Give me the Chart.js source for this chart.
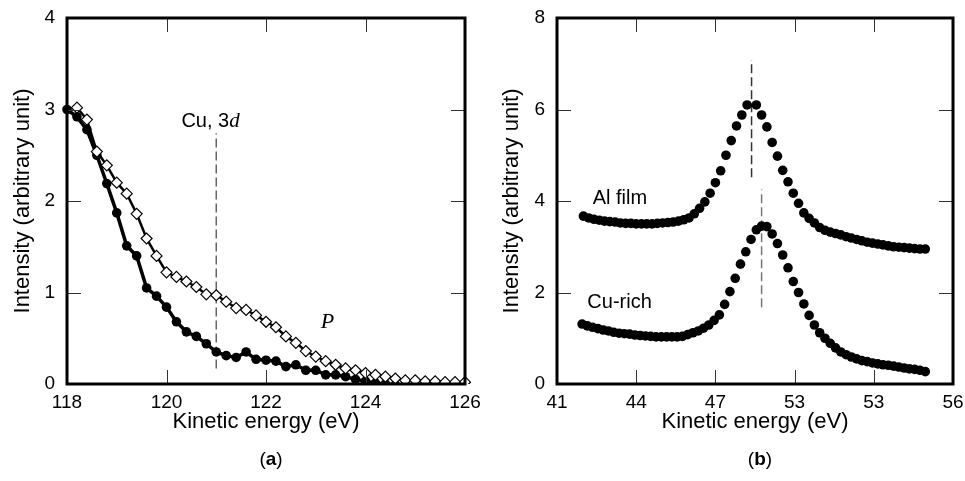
<!DOCTYPE html>
<html lang="en">
<head>
<meta charset="UTF-8">
<title>Kinetic energy spectra</title>
<script src="https://cdn.jsdelivr.net/npm/chart.js"></script>
<style>
    body {
        margin: 0;
        background: #fff;
    }

    .wrap {
        position: relative;
        width: 965px;
        height: 481px;
    }

    #chartA {
        position: absolute;
        left: 0;
        top: 0;
    }

    #chartB {
        position: absolute;
        left: 480px;
        top: 0;
    }
</style>
</head>
<body>
<div class="wrap">
    <canvas id="chartA" width="480" height="481"></canvas>
    <canvas id="chartB" width="485" height="481"></canvas>
</div>

<script>
    // ---- panel (a) ----
    const energyA = [118.0, 118.2, 118.4, 118.6, 118.8, 119.0, 119.2, 119.4, 119.6, 119.8,
        120.0, 120.2, 120.4, 120.6, 120.8, 121.0, 121.2, 121.4, 121.6, 121.8,
        122.0, 122.2, 122.4, 122.6, 122.8, 123.0, 123.2, 123.4, 123.6, 123.8,
        124.0, 124.2, 124.4, 124.6, 124.8, 125.0, 125.2, 125.4, 125.6, 125.8, 126.0];
    const filledA = [3.00, 2.92, 2.78, 2.50, 2.19, 1.87, 1.51, 1.40, 1.05, 0.96,
        0.84, 0.68, 0.57, 0.52, 0.44, 0.35, 0.31, 0.29, 0.35, 0.27,
        0.26, 0.25, 0.19, 0.21, 0.15, 0.15, 0.10, 0.10, 0.08, 0.05,
        0.03, 0.01, 0.00, -0.01, -0.01, -0.01, -0.01, -0.01, -0.01, -0.01, -0.01];
    const openA = [null, 3.02, 2.89, 2.54, 2.39, 2.20, 2.08, 1.86, 1.59, 1.40,
        1.22, 1.17, 1.12, 1.06, 0.98, 0.97, 0.90, 0.83, 0.81, 0.75,
        0.68, 0.62, 0.52, 0.45, 0.36, 0.30, 0.25, 0.21, 0.17, 0.15,
        0.12, 0.10, 0.08, 0.06, 0.04, 0.04, 0.03, 0.03, 0.02, 0.02, 0.02];
    const ticksXA = ['118', '120', '122', '124', '126'];
    const ticksYA = ['0', '1', '2', '3', '4'];
    // dashed marker: [x, yFrom, yTo]
    const markersA = [[121.0, 0.17, 2.74]];

    // ---- panel (b) ----
    const energyAl = [42.0, 42.2, 42.4, 42.6, 42.8, 43.0, 43.2, 43.4, 43.6, 43.8,
        44.0, 44.2, 44.4, 44.6, 44.8, 45.0, 45.2, 45.4, 45.6, 45.8,
        46.0, 46.2, 46.4, 46.6, 46.8, 47.0, 47.2, 47.4, 47.6, 47.8, 48.0, 48.2,
        48.55, 48.75, 48.95, 49.15, 49.35, 49.55, 49.75, 49.95, 50.15, 50.35,
        50.55, 50.75, 50.95, 51.15, 51.35, 51.55, 51.75, 51.95, 52.15, 52.35,
        52.55, 52.75, 52.95, 53.15, 53.35, 53.55, 53.75, 53.95, 54.15, 54.35,
        54.55, 54.75, 54.95];
    const alFilm = [3.67, 3.63, 3.60, 3.58, 3.56, 3.55, 3.54, 3.52, 3.51, 3.51,
        3.50, 3.50, 3.50, 3.50, 3.51, 3.52, 3.53, 3.54, 3.56, 3.59,
        3.63, 3.72, 3.84, 3.98, 4.17, 4.40, 4.66, 5.00, 5.32, 5.64, 5.88, 6.10,
        6.10, 5.88, 5.62, 5.28, 4.98, 4.67, 4.42, 4.17, 3.95, 3.74,
        3.62, 3.52, 3.42, 3.36, 3.32, 3.29, 3.26, 3.22, 3.19, 3.16,
        3.13, 3.10, 3.08, 3.06, 3.04, 3.02, 3.00, 2.99, 2.98, 2.97,
        2.96, 2.95, 2.95];
    const energyCu = [41.95, 42.15, 42.35, 42.55, 42.75, 42.95, 43.15, 43.35, 43.55, 43.75,
        43.95, 44.15, 44.35, 44.55, 44.75, 44.95, 45.15, 45.35, 45.55, 45.75,
        45.95, 46.15, 46.35, 46.55, 46.75, 46.95, 47.15, 47.35, 47.55, 47.75,
        47.95, 48.15, 48.35, 48.55, 48.75, 48.95, 49.15, 49.35, 49.55, 49.75,
        49.95, 50.15, 50.35, 50.55, 50.75, 50.95, 51.15, 51.35, 51.55, 51.75,
        51.95, 52.15, 52.35, 52.55, 52.75, 52.95, 53.15, 53.35, 53.55, 53.75,
        53.95, 54.15, 54.35, 54.55, 54.75, 54.95];
    const cuRich = [1.31, 1.27, 1.24, 1.21, 1.18, 1.16, 1.13, 1.11, 1.10, 1.09,
        1.07, 1.06, 1.05, 1.04, 1.03, 1.03, 1.03, 1.03, 1.03, 1.04,
        1.08, 1.12, 1.16, 1.22, 1.29, 1.39, 1.51, 1.74, 2.02, 2.31,
        2.62, 2.89, 3.16, 3.37, 3.45, 3.44, 3.28, 3.07, 2.82, 2.54,
        2.24, 2.00, 1.75, 1.50, 1.29, 1.12, 1.00, 0.89, 0.79, 0.70,
        0.64, 0.59, 0.55, 0.51, 0.49, 0.46, 0.44, 0.42, 0.41, 0.39,
        0.37, 0.35, 0.33, 0.32, 0.30, 0.27];
    // the original figure prints "53" under the 50 tick, kept as is
    const ticksXB = ['41', '44', '47', '53', '53', '56'];
    const ticksYB = ['0', '2', '4', '6', '8'];
    const markersB = [[48.37, 4.52, 7.08], [48.75, 1.68, 4.25]];

    const SANS = '"Liberation Sans", Arial, Helvetica, sans-serif';
    const SERIF = '"Liberation Serif", "DejaVu Serif", serif';

    function toPoints(xs, ys) {
        const pts = [];
        xs.forEach((x, i) => {
            if (ys[i] !== null) pts.push({x: x, y: ys[i]});
        });
        return pts;
    }

    // frame, inward ticks, dashed markers and text labels
    function panelDecor(markers, markerColors, labels, caption) {
        return {
            id: 'panelDecor',
            beforeDatasetsDraw(chart) {
                const ctx = chart.ctx;
                const xs = chart.scales.x, ys = chart.scales.y;
                ctx.save();
                ctx.lineWidth = 1.5;
                ctx.setLineDash([9, 4]);
                markers.forEach((m, i) => {
                    ctx.strokeStyle = markerColors[i];
                    const px = xs.getPixelForValue(m[0]);
                    ctx.beginPath();
                    ctx.moveTo(px, ys.getPixelForValue(m[1]));
                    ctx.lineTo(px, ys.getPixelForValue(m[2]));
                    ctx.stroke();
                });
                ctx.restore();
            },
            afterDraw(chart) {
                const ctx = chart.ctx;
                const a = chart.chartArea;
                const xs = chart.scales.x, ys = chart.scales.y;
                ctx.save();
                // inward ticks on all four sides
                ctx.strokeStyle = '#333';
                ctx.lineWidth = 1;
                const tl = 14;
                xs.ticks.forEach(t => {
                    const px = Math.round(xs.getPixelForValue(t.value)) + 0.5;
                    ctx.beginPath();
                    ctx.moveTo(px, a.bottom);
                    ctx.lineTo(px, a.bottom - tl);
                    ctx.moveTo(px, a.top);
                    ctx.lineTo(px, a.top + tl);
                    ctx.stroke();
                });
                ys.ticks.forEach(t => {
                    const py = Math.round(ys.getPixelForValue(t.value)) + 0.5;
                    ctx.beginPath();
                    ctx.moveTo(a.left, py);
                    ctx.lineTo(a.left + tl, py);
                    ctx.moveTo(a.right, py);
                    ctx.lineTo(a.right - tl, py);
                    ctx.stroke();
                });
                // frame
                ctx.strokeStyle = '#000';
                ctx.lineWidth = 3;
                ctx.strokeRect(a.left, a.top, a.right - a.left, a.bottom - a.top);

                // text labels, pieces: [text, font]
                ctx.fillStyle = '#000';
                ctx.textBaseline = 'middle';
                labels.forEach(lb => {
                    let px = xs.getPixelForValue(lb.x);
                    const py = ys.getPixelForValue(lb.y);
                    ctx.textAlign = 'left';
                    lb.parts.forEach(p => {
                        ctx.font = p[1];
                        ctx.fillText(p[0], px, py);
                        px += ctx.measureText(p[0]).width;
                    });
                });

                // caption (a)/(b) under the axis title
                const capParts = [['(', '19px ' + SANS], [caption, 'bold 19px ' + SANS], [')', '19px ' + SANS]];
                let w = 0;
                capParts.forEach(p => {
                    ctx.font = p[1];
                    w += ctx.measureText(p[0]).width;
                });
                let cx = (a.left + a.right) / 2 + 5 - w / 2;
                capParts.forEach(p => {
                    ctx.font = p[1];
                    ctx.fillText(p[0], cx, 460);
                    cx += ctx.measureText(p[0]).width;
                });
                ctx.restore();
            }
        };
    }

    function panelOptions(xr, yr, xLabels, yLabels, yAxisWidth, yTitlePad) {
        return {
            responsive: false,
            animation: false,
            layout: {padding: {top: 18, right: xr.padRight, left: 0, bottom: 0}},
            plugins: {
                legend: {display: false},
                tooltip: {enabled: false}
            },
            scales: {
                x: {
                    type: 'linear',
                    min: xr.min,
                    max: xr.max,
                    grid: {display: false, drawTicks: false},
                    border: {display: false},
                    afterFit: scale => {
                        scale.height = 97;
                        scale.paddingLeft = 0;
                        scale.paddingRight = 0;
                    },
                    afterBuildTicks: scale => {
                        scale.ticks = xLabels.map((l, i) => ({value: xr.min + i * xr.step}));
                    },
                    ticks: {
                        padding: 7,
                        color: '#000',
                        font: {family: SANS, size: 19, lineHeight: 1.2},
                        maxRotation: 0,
                        autoSkip: false,
                        callback: (v, i) => xLabels[i]
                    },
                    title: {
                        display: true,
                        text: 'Kinetic energy (eV)',
                        color: '#000',
                        font: {family: SANS, size: 22, lineHeight: 1.2},
                        padding: {top: 0, bottom: 46}
                    }
                },
                y: {
                    type: 'linear',
                    min: yr.min,
                    max: yr.max,
                    grid: {display: false, drawTicks: false},
                    border: {display: false},
                    afterFit: scale => {
                        scale.width = yAxisWidth;
                        scale.paddingTop = 0;
                        scale.paddingBottom = 0;
                    },
                    afterBuildTicks: scale => {
                        scale.ticks = yLabels.map((l, i) => ({value: yr.min + i * yr.step}));
                    },
                    ticks: {
                        padding: 12,
                        color: '#000',
                        font: {family: SANS, size: 19, lineHeight: 1.2},
                        autoSkip: false,
                        callback: (v, i) => yLabels[i]
                    },
                    title: {
                        display: true,
                        text: 'Intensity (arbitrary unit)',
                        color: '#000',
                        font: {family: SANS, size: 22, lineHeight: 1.2},
                        padding: {top: yTitlePad, bottom: 0}
                    }
                }
            }
        };
    }

    // panel (a): open diamonds listed first so they sit on top
    new Chart(document.getElementById('chartA'), {
        type: 'line',
        data: {
            datasets: [{
                data: toPoints(energyA, openA),
                borderColor: '#000',
                borderWidth: 2.5,
                tension: 0,
                pointStyle: 'rectRot',
                pointRadius: 5.5,
                pointBackgroundColor: '#fff',
                pointBorderColor: '#000',
                pointBorderWidth: 1.2,
                clip: {left: 8, top: 8, right: 8, bottom: 0}
            }, {
                data: toPoints(energyA, filledA),
                borderColor: '#000',
                borderWidth: 3.5,
                tension: 0,
                pointStyle: 'circle',
                pointRadius: 4.8,
                pointBackgroundColor: '#000',
                pointBorderWidth: 0,
                clip: {left: 8, top: 8, right: 8, bottom: 0}
            }]
        },
        options: panelOptions({min: 118, max: 126, step: 2, padRight: 15},
            {min: 0, max: 4, step: 1}, ticksXA, ticksYA, 67, 10),
        plugins: [panelDecor(markersA, ['#666'], [
            {x: 120.3, y: 2.87, parts: [['Cu, 3', '20px ' + SANS], ['d', 'italic 21px ' + SERIF]]},
            {x: 123.1, y: 0.67, parts: [['P', 'italic 22px ' + SERIF]]}
        ], 'a')]
    });

    // panel (b): scatter of filled circles
    new Chart(document.getElementById('chartB'), {
        type: 'line',
        data: {
            datasets: [{
                data: toPoints(energyAl, alFilm),
                showLine: false,
                pointStyle: 'circle',
                pointRadius: 4.8,
                pointBackgroundColor: '#000',
                pointBorderWidth: 0
            }, {
                data: toPoints(energyCu, cuRich),
                showLine: false,
                pointStyle: 'circle',
                pointRadius: 4.8,
                pointBackgroundColor: '#000',
                pointBorderWidth: 0
            }]
        },
        options: panelOptions({min: 41, max: 56, step: 3, padRight: 12},
            {min: 0, max: 8, step: 2}, ticksXB, ticksYB, 77, 19),
        plugins: [panelDecor(markersB, ['#333', '#777'], [
            {x: 42.35, y: 4.05, parts: [['Al film', '20px ' + SANS]]},
            {x: 42.15, y: 1.79, parts: [['Cu-rich', '20px ' + SANS]]}
        ], 'b')]
    });
</script>
</body>
</html>
